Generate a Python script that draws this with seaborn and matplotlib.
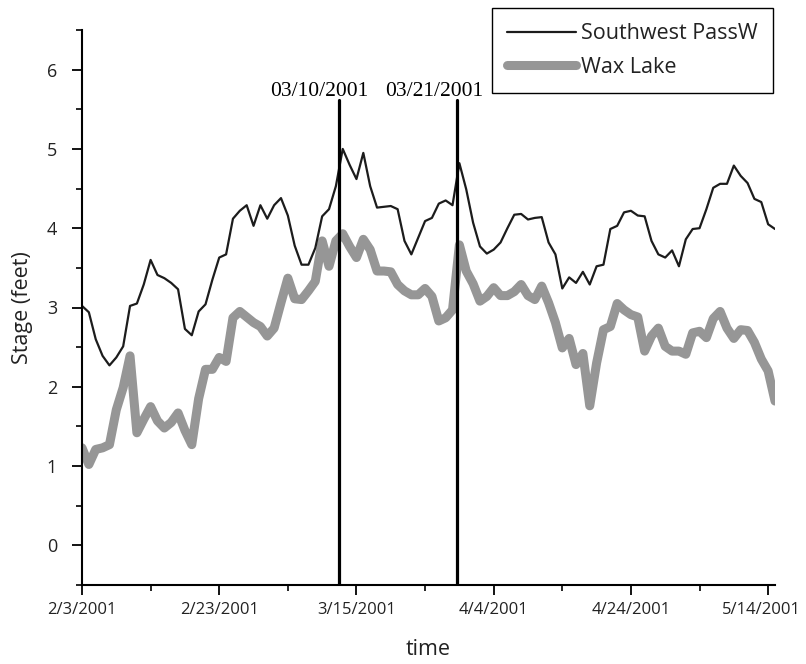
import matplotlib
matplotlib.use("Agg")
import matplotlib.pyplot as plt
import matplotlib.transforms as mtransforms
from matplotlib.lines import Line2D
from matplotlib.ticker import MultipleLocator
import pandas as pd
import seaborn as sns

# Daily river stage (feet), starting 2/3/2001
start_date = "2001-02-03"
southwest_passw = [
    3.02, 2.94, 2.60, 2.39, 2.27, 2.37, 2.51, 3.02, 3.05, 3.29,
    3.60, 3.41, 3.37, 3.31, 3.23, 2.73, 2.65, 2.95, 3.04, 3.35,
    3.63, 3.67, 4.12, 4.22, 4.29, 4.03, 4.29, 4.12, 4.29, 4.38,
    4.16, 3.78, 3.54, 3.54, 3.75, 4.15, 4.24, 4.53, 5.00, 4.80,
    4.62, 4.95, 4.53, 4.26, 4.27, 4.28, 4.24, 3.84, 3.67, 3.88,
    4.09, 4.13, 4.31, 4.35, 4.29, 4.82, 4.49, 4.07, 3.77, 3.68,
    3.73, 3.82, 4.00, 4.17, 4.18, 4.11, 4.13, 4.14, 3.82, 3.67,
    3.24, 3.38, 3.31, 3.45, 3.29, 3.52, 3.54, 3.99, 4.03, 4.20,
    4.22, 4.16, 4.15, 3.84, 3.67, 3.63, 3.72, 3.52, 3.86, 3.99,
    4.00, 4.24, 4.51, 4.56, 4.56, 4.79, 4.66, 4.57, 4.37, 4.33,
    4.05, 3.99,
]
wax_lake = [
    1.23, 1.02, 1.21, 1.23, 1.27, 1.71, 1.99, 2.39, 1.42, 1.59,
    1.75, 1.57, 1.48, 1.55, 1.67, 1.45, 1.27, 1.85, 2.22, 2.22,
    2.37, 2.32, 2.87, 2.95, 2.88, 2.81, 2.76, 2.64, 2.74, 3.06,
    3.37, 3.11, 3.10, 3.21, 3.33, 3.84, 3.52, 3.84, 3.93, 3.77,
    3.63, 3.86, 3.73, 3.46, 3.46, 3.45, 3.29, 3.21, 3.16, 3.16,
    3.24, 3.14, 2.83, 2.87, 2.97, 3.79, 3.46, 3.30, 3.08, 3.14,
    3.25, 3.15, 3.15, 3.20, 3.29, 3.15, 3.10, 3.27, 3.06, 2.81,
    2.49, 2.61, 2.28, 2.42, 1.76, 2.30, 2.72, 2.76, 3.05, 2.97,
    2.91, 2.88, 2.45, 2.64, 2.74, 2.51, 2.45, 2.45, 2.41, 2.68,
    2.70, 2.62, 2.86, 2.95, 2.74, 2.61, 2.72, 2.71, 2.56, 2.35,
    2.20, 1.82,
]
series_names = ["Southwest PassW", "Wax Lake"]

# Frontal passages marked on the plot
front_times = ["2001-03-12 12:00", "2001-03-29 14:00"]
front_labels = ["03/10/2001", "03/21/2001"]

tick_labels = ["2/3/2001", "2/23/2001", "3/15/2001", "4/4/2001", "4/24/2001", "5/14/2001"]

dates = pd.date_range(start_date, periods=len(southwest_passw), freq="D")
df = pd.DataFrame({"time": dates,
                   series_names[0]: southwest_passw,
                   series_names[1]: wax_lake})
long_df = df.melt(id_vars="time", var_name="station", value_name="stage")

sns.set_style("ticks")
plt.rcParams["font.family"] = ["Open Sans", "DejaVu Sans"]

colors = {series_names[0]: "#1c1c1c", series_names[1]: "#969696"}
widths = {series_names[0]: 1.6, series_names[1]: 6.5}

fig = plt.figure(figsize=(8.06, 6.64), dpi=100)
ax = fig.add_axes([82 / 806, 1 - 585 / 664, (775 - 82) / 806, (585 - 30) / 664])

# thick grey series first, thin black one on top
for name in [series_names[1], series_names[0]]:
    sns.lineplot(data=long_df[long_df.station == name], x="time", y="stage",
                 color=colors[name], linewidth=widths[name], ax=ax,
                 legend=False, solid_joinstyle="round", solid_capstyle="round")

# vertical markers with their date captions
ymin, ymax = -0.5, 6.5
line_top = 5.62
caption_shift = [-20, -22]
for t, lab, dx in zip(front_times, front_labels, caption_shift):
    ts = pd.Timestamp(t)
    ax.axvline(ts, ymin=0, ymax=(line_top - ymin) / (ymax - ymin),
               color="black", linewidth=2.3, zorder=5)
    ax.annotate(lab, xy=(ts, 5.72), xytext=(dx, 0), textcoords="offset pixels",
                ha="center", va="center", fontsize=15.5,
                family=["Liberation Serif", "DejaVu Serif"], color="black")

tick_dates = pd.to_datetime(tick_labels, format="%m/%d/%Y")
ax.set_xlim(dates[0], dates[-1])
ax.set_xticks(tick_dates)
ax.set_xticklabels(tick_labels)
ax.set_xticks(pd.date_range(tick_dates[0], tick_dates[-1], freq="10D"), minor=True)

ax.set_ylim(ymin, ymax)
ax.set_yticks(range(0, 7))
ax.yaxis.set_minor_locator(MultipleLocator(0.5))

ax.tick_params(axis="both", which="major", direction="out", length=7, width=1.3,
               colors="black", labelsize=12, labelcolor="#222222")
ax.tick_params(axis="x", which="major", pad=5)
ax.tick_params(axis="y", which="major", pad=11, labelsize=13)
ax.tick_params(axis="both", which="minor", direction="out", length=4.5, width=1.2,
               colors="black")

# keep the last date label inside the figure edge
last = ax.get_xticklabels()[-1]
last.set_transform(last.get_transform()
                   + mtransforms.ScaledTranslation(-5 / 72, 0, fig.dpi_scale_trans))

sns.despine(ax=ax)
for side in ["left", "bottom"]:
    ax.spines[side].set_linewidth(1.5)
    ax.spines[side].set_color("black")

ax.set_xlabel("time", fontsize=15.5, color="#222222")
ax.set_ylabel("Stage (feet)", fontsize=15.5, color="#222222")
ax.xaxis.set_label_coords(0.5, -0.098)
ax.yaxis.set_label_coords(-0.07, 0.5)

handles = [Line2D([0], [0], color=colors[n], linewidth=widths[n], solid_capstyle="round")
           for n in series_names]
leg = fig.legend(handles, series_names, loc="upper right",
                 bbox_to_anchor=(773 / 806, 1 - 8 / 664), frameon=True, fancybox=False,
                 edgecolor="black", framealpha=1, fontsize=15.5, handlelength=3.2,
                 handletextpad=0.25, borderpad=0.7, labelspacing=0.6, borderaxespad=0)
leg.get_frame().set_linewidth(1.0)
for txt in leg.get_texts():
    txt.set_color("#222222")

fig.savefig("out.png", dpi=100)
